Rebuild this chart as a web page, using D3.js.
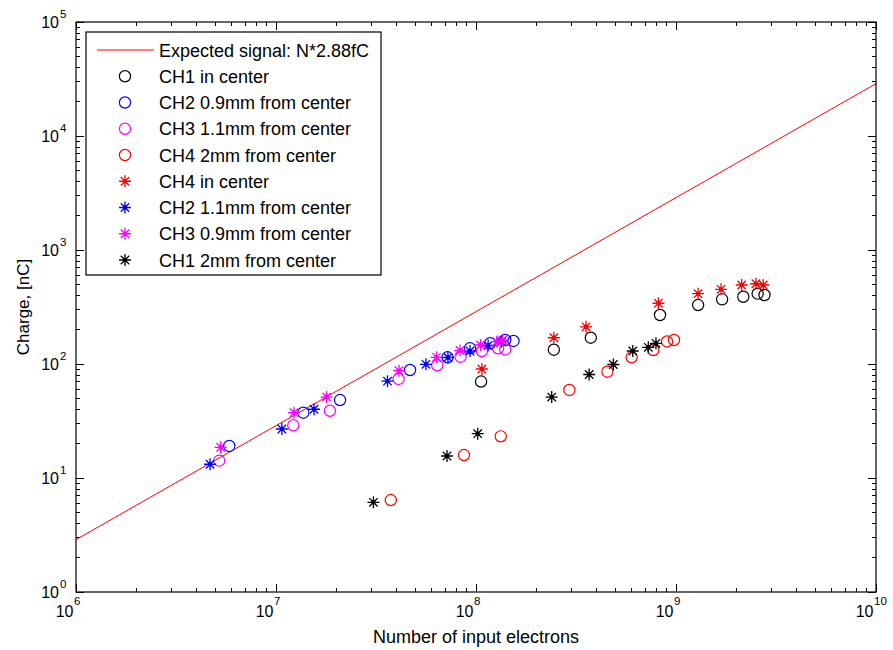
<!DOCTYPE html>
<html>
<head>
<meta charset="utf-8">
<script src="https://cdn.jsdelivr.net/npm/d3@7"></script>
<style>
  html, body { margin: 0; padding: 0; background: #fff; }
  svg text { font-family: "Liberation Sans", Arial, Helvetica, sans-serif; fill: #000; }
</style>
</head>
<body>
<svg id="chart" width="893" height="650"></svg>
<script>
// Expected-signal reference: Q = N * 2.88 fC (plotted in nC)
const expectedFactorFC = 2.88;
const expectedN = [1e6, 1e10];

// Measured points: number of input electrons vs charge [nC]
const ch1CenterN = [1.06e8, 2.45e8, 3.75e8, 8.32e8, 1.29e9, 1.70e9, 2.17e9, 2.56e9, 2.77e9];
const ch1CenterQ = [70.2, 133.5, 170, 269, 329, 369, 389, 414, 403];

const ch2_09N = [5.84e6, 1.37e7, 2.09e7, 4.68e7, 7.2e7, 9.33e7, 1.175e8, 1.40e8, 1.54e8];
const ch2_09Q = [19.1, 37.4, 48.3, 88.6, 114.5, 137.3, 151.9, 162.4, 159.2];

const ch3_11N = [5.2e6, 1.22e7, 1.86e7, 4.1e7, 6.4e7, 8.37e7, 1.07e8, 1.29e8, 1.40e8];
const ch3_11Q = [14.2, 29.0, 38.9, 73.9, 97.4, 115.9, 130, 137.3, 134.1];

const ch4_2N = [3.75e7, 8.71e7, 1.33e8, 2.93e8, 4.54e8, 6.0e8, 7.7e8, 9.02e8, 9.77e8];
const ch4_2Q = [6.41, 15.9, 23.2, 59.2, 85.6, 114.5, 132.7, 157.6, 162.4];

const ch4CenterN = [1.07e8, 2.45e8, 3.55e8, 8.17e8, 1.29e9, 1.68e9, 2.13e9, 2.51e9, 2.73e9];
const ch4CenterQ = [90.4, 170, 212, 341, 414, 452, 493, 506, 493];

const ch2_11N = [4.68e6, 1.07e7, 1.55e7, 3.61e7, 5.62e7, 7.24e7, 9.33e7, 1.15e8, 1.34e8];
const ch2_11Q = [13.2, 26.9, 40.1, 70.7, 99.4, 114, 130, 145.3, 156.9];

const ch3_09N = [5.29e6, 1.23e7, 1.79e7, 4.12e7, 6.35e7, 8.32e7, 1.053e8, 1.27e8, 1.36e8];
const ch3_09Q = [18.6, 37.4, 51.3, 87.3, 114.5, 131.3, 146.8, 156.9, 162.4];

const ch1_2N = [3.07e7, 7.16e7, 1.02e8, 2.39e8, 3.68e8, 4.86e8, 6.08e8, 7.27e8, 7.94e8];
const ch1_2Q = [6.12, 15.6, 24.5, 51.3, 80.9, 99, 130, 140.1, 151.9];

const xTickExponents = [6, 7, 8, 9, 10];
const yTickExponents = [0, 1, 2, 3, 4, 5];

const legendLabels = [
  "Expected signal: N*2.88fC",
  "CH1 in center",
  "CH2 0.9mm from center",
  "CH3 1.1mm from center",
  "CH4 2mm from center",
  "CH4 in center",
  "CH2 1.1mm from center",
  "CH3 0.9mm from center",
  "CH1 2mm from center"
];

// Series in drawing order
const series = [
  { n: ch1CenterN, q: ch1CenterQ, marker: "o", color: "#000000" },
  { n: ch2_09N, q: ch2_09Q, marker: "o", color: "#0000ff" },
  { n: ch3_11N, q: ch3_11Q, marker: "o", color: "#ff00ff" },
  { n: ch4_2N, q: ch4_2Q, marker: "o", color: "#ff0000" },
  { n: ch4CenterN, q: ch4CenterQ, marker: "*", color: "#ff0000" },
  { n: ch2_11N, q: ch2_11Q, marker: "*", color: "#0000ff" },
  { n: ch3_09N, q: ch3_09Q, marker: "*", color: "#ff00ff" },
  { n: ch1_2N, q: ch1_2Q, marker: "*", color: "#000000" }
];

const svg = d3.select("#chart");
const plot = { left: 76, right: 876, top: 22, bottom: 592 };

const x = d3.scaleLog().domain([1e6, 1e10]).range([plot.left, plot.right]);
const y = d3.scaleLog().domain([1, 1e5]).range([plot.bottom, plot.top]);

svg.append("defs").append("clipPath").attr("id", "plotClip")
  .append("rect")
  .attr("x", plot.left).attr("y", plot.top)
  .attr("width", plot.right - plot.left).attr("height", plot.bottom - plot.top);

// Tick values: majors at decades, minors at 2..9 within each decade
function logTicks(domain) {
  const lo = Math.round(Math.log10(domain[0])), hi = Math.round(Math.log10(domain[1]));
  const major = [], minor = [];
  for (let e = lo; e <= hi; e++) {
    major.push(Math.pow(10, e));
    if (e < hi) for (let k = 2; k <= 9; k++) minor.push(k * Math.pow(10, e));
  }
  return { major, minor };
}
const xt = logTicks(x.domain());
const yt = logTicks(y.domain());
const majorLen = 8, minorLen = 4;

const ticks = svg.append("g").attr("stroke", "#000").attr("stroke-width", 1).attr("shape-rendering", "crispEdges");
function hTick(v, len) {
  const px = x(v);
  ticks.append("line").attr("x1", px).attr("x2", px).attr("y1", plot.bottom).attr("y2", plot.bottom - len);
  ticks.append("line").attr("x1", px).attr("x2", px).attr("y1", plot.top).attr("y2", plot.top + len);
}
function vTick(v, len) {
  const py = y(v);
  ticks.append("line").attr("y1", py).attr("y2", py).attr("x1", plot.left).attr("x2", plot.left + len);
  ticks.append("line").attr("y1", py).attr("y2", py).attr("x1", plot.right).attr("x2", plot.right - len);
}
xt.minor.forEach(v => hTick(v, minorLen));
xt.major.forEach(v => hTick(v, majorLen));
yt.minor.forEach(v => vTick(v, minorLen));
yt.major.forEach(v => vTick(v, majorLen));

// Expected signal line
const lineData = expectedN.map(n => [n, n * expectedFactorFC * 1e-6]);
svg.append("path")
  .attr("clip-path", "url(#plotClip)")
  .attr("d", d3.line().x(d => x(d[0])).y(d => y(d[1]))(lineData))
  .attr("fill", "none").attr("stroke", "#ff0000").attr("stroke-width", 1);

// Marker drawing
function drawMarker(g, type, cx, cy, color) {
  if (type === "o") {
    g.append("circle").attr("cx", cx).attr("cy", cy).attr("r", 5.6)
      .attr("fill", "none").attr("stroke", color).attr("stroke-width", 1.2);
  } else {
    const a = 6, b = 4.2;
    const p = `M${cx - a},${cy}L${cx + a},${cy}M${cx},${cy - a}L${cx},${cy + a}` +
              `M${cx - b},${cy - b}L${cx + b},${cy + b}M${cx - b},${cy + b}L${cx + b},${cy - b}`;
    g.append("path").attr("d", p).attr("stroke", color).attr("stroke-width", 1.3).attr("fill", "none");
    g.append("circle").attr("cx", cx).attr("cy", cy).attr("r", 2.2).attr("fill", color);
  }
}

const marks = svg.append("g").attr("clip-path", "url(#plotClip)");
series.forEach(s => {
  const g = marks.append("g");
  s.n.forEach((n, i) => drawMarker(g, s.marker, x(n), y(s.q[i]), s.color));
});

// Plot box
svg.append("rect")
  .attr("x", plot.left).attr("y", plot.top)
  .attr("width", plot.right - plot.left).attr("height", plot.bottom - plot.top)
  .attr("fill", "none").attr("stroke", "#000").attr("stroke-width", 1.2);

// Tick labels (10 with superscript exponent)
const xLab = svg.append("g");
xTickExponents.forEach(e => {
  const px = x(Math.pow(10, e));
  xLab.append("text").attr("x", px - 2.5).attr("y", 617).attr("text-anchor", "end")
    .attr("font-size", 16).text("10");
  xLab.append("text").attr("x", px - 2).attr("y", 605).attr("text-anchor", "start")
    .attr("font-size", 11.5).text(e);
});
const yLab = svg.append("g");
yTickExponents.forEach(e => {
  const py = y(Math.pow(10, e));
  yLab.append("text").attr("x", 59).attr("y", py + 6).attr("text-anchor", "end")
    .attr("font-size", 16).text("10");
  yLab.append("text").attr("x", 60).attr("y", py - 4).attr("text-anchor", "start")
    .attr("font-size", 11.5).text(e);
});

// Axis titles
svg.append("text").attr("x", (plot.left + plot.right) / 2).attr("y", 643)
  .attr("text-anchor", "middle").attr("font-size", 18).text("Number of input electrons");
svg.append("text")
  .attr("transform", `translate(29,${(plot.top + plot.bottom) / 2}) rotate(-90)`)
  .attr("text-anchor", "middle").attr("font-size", 17).text("Charge, [nC]");

// Legend
const legend = svg.append("g");
const lg = { x: 86, y: 32, w: 295, h: 243, row0: 50, rowStep: 26.25 };
legend.append("rect").attr("x", lg.x).attr("y", lg.y).attr("width", lg.w).attr("height", lg.h)
  .attr("fill", "#fff").attr("stroke", "#000").attr("stroke-width", 1.2);
legendLabels.forEach((label, i) => {
  const ry = lg.row0 + i * lg.rowStep;
  if (i === 0) {
    legend.append("line").attr("x1", 97).attr("x2", 154).attr("y1", ry).attr("y2", ry)
      .attr("stroke", "#ff0000").attr("stroke-width", 1);
  } else {
    const s = series[i - 1];
    drawMarker(legend, s.marker, 125, ry, s.color);
  }
  legend.append("text").attr("x", 159).attr("y", ry + 6.5).attr("font-size", 18).text(label);
});
</script>
</body>
</html>
